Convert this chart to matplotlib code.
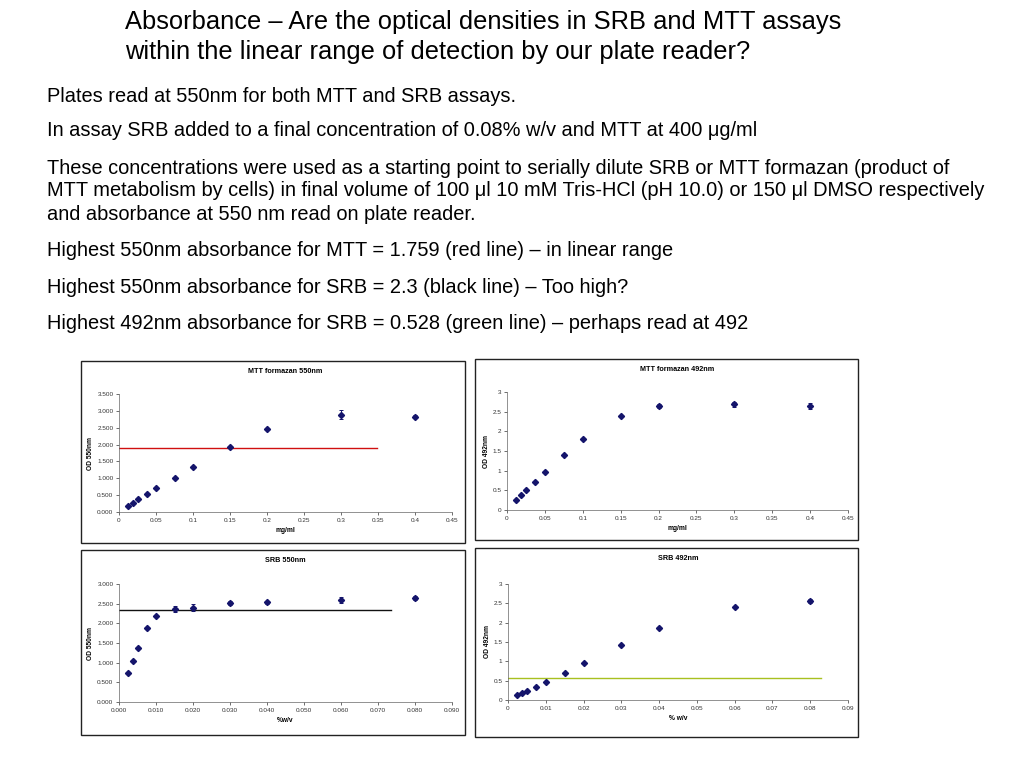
import matplotlib.pyplot as plt
from matplotlib.patches import Rectangle

plt.rcParams['font.family'] = ['Liberation Sans', 'DejaVu Sans']

W, H = 1024, 768

# MTT formazan, mg/ml
mtt_conc = [0.0125, 0.01875, 0.025, 0.0375, 0.05, 0.075, 0.1, 0.15, 0.2, 0.3, 0.4]
mtt_550 = [0.19, 0.27, 0.38, 0.54, 0.71, 1.02, 1.33, 1.93, 2.47, 2.89, 2.83]
mtt_550_err = [0.01, 0.01, 0.01, 0.01, 0.01, 0.01, 0.01, 0.02, 0.02, 0.14, 0.05]
mtt_492 = [0.26, 0.37, 0.51, 0.72, 0.96, 1.41, 1.80, 2.40, 2.65, 2.69, 2.65]
mtt_492_err = [0.01, 0.01, 0.01, 0.01, 0.01, 0.01, 0.01, 0.02, 0.05, 0.06, 0.08]

# SRB, % w/v
srb_conc = [0.0025, 0.00375, 0.005, 0.0075, 0.01, 0.015, 0.02, 0.03, 0.04, 0.06, 0.08]
srb_550 = [0.74, 1.05, 1.38, 1.88, 2.18, 2.37, 2.40, 2.51, 2.53, 2.59, 2.64]
srb_550_err = [0.01, 0.01, 0.01, 0.01, 0.01, 0.07, 0.08, 0.05, 0.04, 0.08, 0.05]
srb_492 = [0.12, 0.17, 0.23, 0.34, 0.46, 0.70, 0.95, 1.41, 1.85, 2.41, 2.55]
srb_492_err = [0.01, 0.01, 0.01, 0.01, 0.01, 0.01, 0.01, 0.01, 0.01, 0.02, 0.05]

# reference lines: (y, x end)
mtt_550_line = (1.89, 0.349)
srb_550_line = (2.345, 0.0736)
srb_492_line = (0.57, 0.0829)

mtt_xticks = [0, 0.05, 0.1, 0.15, 0.2, 0.25, 0.3, 0.35, 0.4, 0.45]
mtt_xlabels = ['0', '0.05', '0.1', '0.15', '0.2', '0.25', '0.3', '0.35', '0.4', '0.45']
srb_xticks = [0, 0.01, 0.02, 0.03, 0.04, 0.05, 0.06, 0.07, 0.08, 0.09]
srb_xlabels_3 = ['0.000', '0.010', '0.020', '0.030', '0.040', '0.050', '0.060', '0.070', '0.080', '0.090']
srb_xlabels_2 = ['0', '0.01', '0.02', '0.03', '0.04', '0.05', '0.06', '0.07', '0.08', '0.09']
yticks_35 = [0, 0.5, 1.0, 1.5, 2.0, 2.5, 3.0, 3.5]
yticks_3 = [0, 0.5, 1.0, 1.5, 2.0, 2.5, 3.0]
ylabels_35 = ['0.000', '0.500', '1.000', '1.500', '2.000', '2.500', '3.000', '3.500']
ylabels_3f = ['0.000', '0.500', '1.000', '1.500', '2.000', '2.500', '3.000']
ylabels_3 = ['0', '0.5', '1', '1.5', '2', '2.5', '3']

fig = plt.figure(figsize=(W / 100, H / 100), dpi=100)


def fx(px):
    return px / W


def fy(py):
    return 1 - py / H


def add_box(x0, y0, x1, y1):
    fig.patches.append(Rectangle((fx(x0), fy(y1)), fx(x1) - fx(x0), fy(y0) - fy(y1),
                                 transform=fig.transFigure, fill=False,
                                 edgecolor='#222222', linewidth=1.0))


def panel(box, ax_px, x, y, err, title, xlabel, ylabel, xlim, xt, xl, ylim, yt, yl,
          line=None, line_color=None):
    add_box(*box)
    x0, y0, x1, y1 = ax_px
    ax = fig.add_axes([fx(x0), fy(y1), fx(x1) - fx(x0), fy(y0) - fy(y1)])
    ax.errorbar(x, y, yerr=err, fmt='D', color='#14146b', markersize=3.1,
                elinewidth=0.7, capsize=1.6, capthick=0.7, ecolor='#14146b')
    if line is not None:
        ax.plot([0, line[1]], [line[0], line[0]], color=line_color, linewidth=1.0)
    ax.set_xlim(*xlim)
    ax.set_ylim(*ylim)
    ax.set_xticks(xt)
    ax.set_xticklabels(xl)
    ax.set_yticks(yt)
    ax.set_yticklabels(yl)
    ax.tick_params(labelsize=4.6, length=2, width=0.5, colors='#333333', pad=2)
    for s in ['top', 'right']:
        ax.spines[s].set_visible(False)
    for s in ['left', 'bottom']:
        ax.spines[s].set_linewidth(0.5)
        ax.spines[s].set_color('#666666')
    ax.set_title(title, fontsize=5.2, fontweight='bold', pad=0,
                 y=1.0 + (y0 - (box[1] + 12)) / (y1 - y0))
    ax.set_xlabel(xlabel, fontsize=4.8, fontweight='bold', labelpad=3)
    ax.set_ylabel(ylabel, fontsize=4.8, fontweight='bold', labelpad=2)
    return ax


panel((81, 361, 465, 543), (119, 394, 452, 512), mtt_conc, mtt_550, mtt_550_err,
      'MTT formazan 550nm', 'mg/ml', 'OD 550nm', (0, 0.45), mtt_xticks, mtt_xlabels,
      (0, 3.5), yticks_35, ylabels_35, mtt_550_line, '#d01010')
panel((475, 359, 858, 540), (507, 392, 848, 510), mtt_conc, mtt_492, mtt_492_err,
      'MTT formazan 492nm', 'mg/ml', 'OD 492nm', (0, 0.45), mtt_xticks, mtt_xlabels,
      (0, 3), yticks_3, ylabels_3)
panel((81, 550, 465, 735), (119, 584, 452, 702), srb_conc, srb_550, srb_550_err,
      'SRB 550nm', '%w/v', 'OD 550nm', (0, 0.09), srb_xticks, srb_xlabels_3,
      (0, 3), yticks_3, ylabels_3f, srb_550_line, '#111111')
panel((475, 548, 858, 737), (508, 584, 848, 700), srb_conc, srb_492, srb_492_err,
      'SRB 492nm', '% w/v', 'OD 492nm', (0, 0.09), srb_xticks, srb_xlabels_2,
      (0, 3), yticks_3, ylabels_3, srb_492_line, '#a8c020')

# slide text
fig.text(fx(125), fy(22), 'Absorbance \u2013 Are the optical densities in SRB and MTT assays',
         fontsize=18.4, va='center', ha='left')
fig.text(fx(125), fy(52), 'within the linear range of detection by our plate reader?',
         fontsize=18.4, va='center', ha='left')

body = [
    (96, 'Plates read at 550nm for both MTT and SRB assays.'),
    (131, 'In assay SRB added to a final concentration of 0.08% w/v and MTT at 400 \u03bcg/ml'),
    (168, 'These concentrations were used as a starting point to serially dilute SRB or MTT formazan (product of'),
    (191, 'MTT metabolism by cells) in final volume of 100 \u03bcl 10 mM Tris-HCl (pH 10.0) or 150 \u03bcl DMSO respectively'),
    (214, 'and absorbance at 550 nm read on plate reader.'),
    (250, 'Highest 550nm absorbance for MTT = 1.759 (red line) \u2013 in linear range'),
    (287, 'Highest 550nm absorbance for SRB = 2.3 (black line) \u2013 Too high?'),
    (323, 'Highest 492nm absorbance for SRB = 0.528 (green line) \u2013 perhaps read at 492'),
]
for ypx, t in body:
    fig.text(fx(47), fy(ypx), t, fontsize=14.4, va='center', ha='left')

fig.savefig('out.png', dpi=100)
